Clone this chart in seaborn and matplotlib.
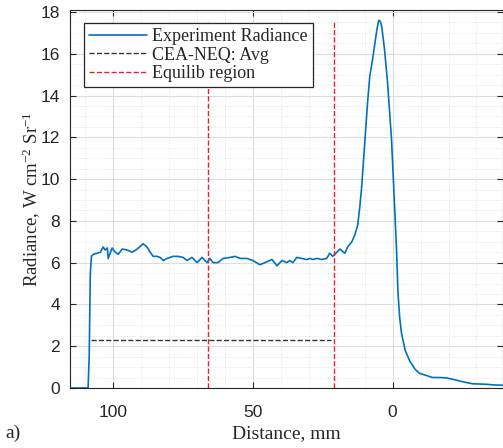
import numpy as np
import pandas as pd
import matplotlib
matplotlib.use("Agg")
import matplotlib.pyplot as plt
import seaborn as sns
from matplotlib.ticker import MultipleLocator

# Radiance trace (distance in mm, radiance)
distance = [115, 109, 108.6, 108.2, 107.8, 107.1, 105.7, 104.6, 103.6, 102.9, 102.1, 101.8,
            100.4, 99.3, 98.2, 96.8, 95, 93.2, 91.4, 89.3, 87.9, 86.8, 85.7, 84.3, 83.2,
            82.1, 80.7, 78.6, 76.8, 75, 73.6, 71.8, 70, 68.2, 66.4, 65.4, 64.3, 62.5, 60.7,
            58.2, 56.4, 54.6, 52.1, 50, 47.5, 45.7, 43.2, 41.4, 39.6, 37.9, 36.8, 35.7,
            34.3, 32.5, 30.7, 29.6, 28.6, 27.1, 25.4, 23.6, 22.5, 21.4, 18.9, 17.1, 16.1,
            14.6, 13.6, 12.5, 11.8, 11.1, 10, 9.0, 8.2, 7.1, 5.7, 5, 4.4, 3.9, 2.9, 1.8, 0.4,
            -0.7, -1.4, -1.9, -2.5, -3.2, -4.5, -6.1, -8, -9.6, -12, -14.3, -17, -19.3,
            -22, -25, -28.6, -33, -37, -39.5]
radiance = [0, 0, 1.5, 5.5, 6.3, 6.4, 6.45, 6.5, 6.75, 6.6, 6.7, 6.2,
            6.7, 6.5, 6.4, 6.65, 6.6, 6.5, 6.65, 6.9, 6.75, 6.5, 6.3, 6.3, 6.25,
            6.1, 6.2, 6.3, 6.3, 6.25, 6.1, 6.25, 6.0, 6.25, 6.0, 6.2, 6.0, 6.0, 6.2,
            6.25, 6.3, 6.2, 6.2, 6.1, 5.9, 6.0, 6.15, 5.85, 6.1, 6.0, 6.1, 6.0,
            6.25, 6.2, 6.15, 6.2, 6.15, 6.2, 6.15, 6.2, 6.45, 6.3, 6.65, 6.45, 6.75,
            7.0, 7.3, 7.8, 8.6, 9.6, 11.7, 13.6, 14.9, 15.8, 17.1, 17.6, 17.55, 17.3, 16.2,
            14.6, 11.9, 8.7, 6.6, 4.6, 3.4, 2.6, 1.8, 1.3, 0.9, 0.7, 0.6, 0.5, 0.5, 0.48,
            0.4, 0.3, 0.2, 0.18, 0.14, 0.13]

cea_avg = 2.3
cea_range = [108, 22]
equilib_x = [66, 21]

df = pd.DataFrame({"Distance": distance, "Radiance": radiance})

sns.set_theme(style="ticks")
serif = ["Liberation Serif", "DejaVu Serif"]
sans = ["Liberation Sans", "DejaVu Sans"]
plt.rcParams["mathtext.fontset"] = "custom"
plt.rcParams["mathtext.rm"] = "Liberation Serif"
plt.rcParams["mathtext.it"] = "Liberation Serif:italic"

fig = plt.figure(figsize=(5.03, 4.48), dpi=100)
ax = fig.add_axes([0.139, 0.134, 0.861, 0.844])

sns.lineplot(data=df, x="Distance", y="Radiance", ax=ax, color="#0072BD",
             linewidth=1.2, label="Experiment Radiance", sort=False)
ax.plot(cea_range, [cea_avg, cea_avg], color="#333333", linestyle="--",
        linewidth=1.0, label="CEA-NEQ: Avg")
for i, xv in enumerate(equilib_x):
    ax.plot([xv, xv], [0, max(radiance)], color="#e8202a", linestyle="--",
            linewidth=1.0, label="Equilib region" if i == 0 else None)

ax.set_xlim(115.5, -39.5)
ax.set_ylim(0, 18.1)
ax.xaxis.set_major_locator(MultipleLocator(50))
ax.xaxis.set_minor_locator(MultipleLocator(10))
ax.yaxis.set_major_locator(MultipleLocator(2))
ax.yaxis.set_minor_locator(MultipleLocator(0.5))

ax.grid(which="major", color="#dcdcdc", linewidth=0.8)
ax.grid(which="minor", color="#e2e2e2", linestyle=":", linewidth=0.7)
ax.set_axisbelow(True)

ax.tick_params(which="major", direction="in", length=4, width=0.8,
               top=True, right=True, labelsize=12.5, colors="#262626", pad=7)
ax.tick_params(axis="x", which="major", pad=12)
ax.tick_params(which="minor", length=0)
for lbl in ax.get_xticklabels() + ax.get_yticklabels():
    lbl.set_family(sans)
for sp in ax.spines.values():
    sp.set_visible(True)
    sp.set_color("#262626")
    sp.set_linewidth(0.8)

ax.set_xlabel("Distance, mm", fontsize=14, family=serif, color="#262626")
ax.set_ylabel("Radiance, W cm$^{\\mathrm{-2}}$ Sr$^{\\mathrm{-1}}$", fontsize=13.5,
              family=serif, color="#262626")
ax.xaxis.set_label_coords(0.5, -0.097)
ax.yaxis.set_label_coords(-0.063, 0.5)

leg = ax.legend(loc="upper left", bbox_to_anchor=(0.032, 0.966), frameon=True,
                fancybox=False, edgecolor="#262626", framealpha=1, handlelength=3.2,
                prop={"family": serif, "size": 13}, borderpad=0.3, labelspacing=0.08,
                handletextpad=0.3, borderaxespad=0)
leg.get_frame().set_linewidth(0.9)

fig.text(0.01, 0.022, "a)", fontsize=14, family=serif, color="#262626")

fig.savefig("out.png", dpi=100)
plt.close(fig)
